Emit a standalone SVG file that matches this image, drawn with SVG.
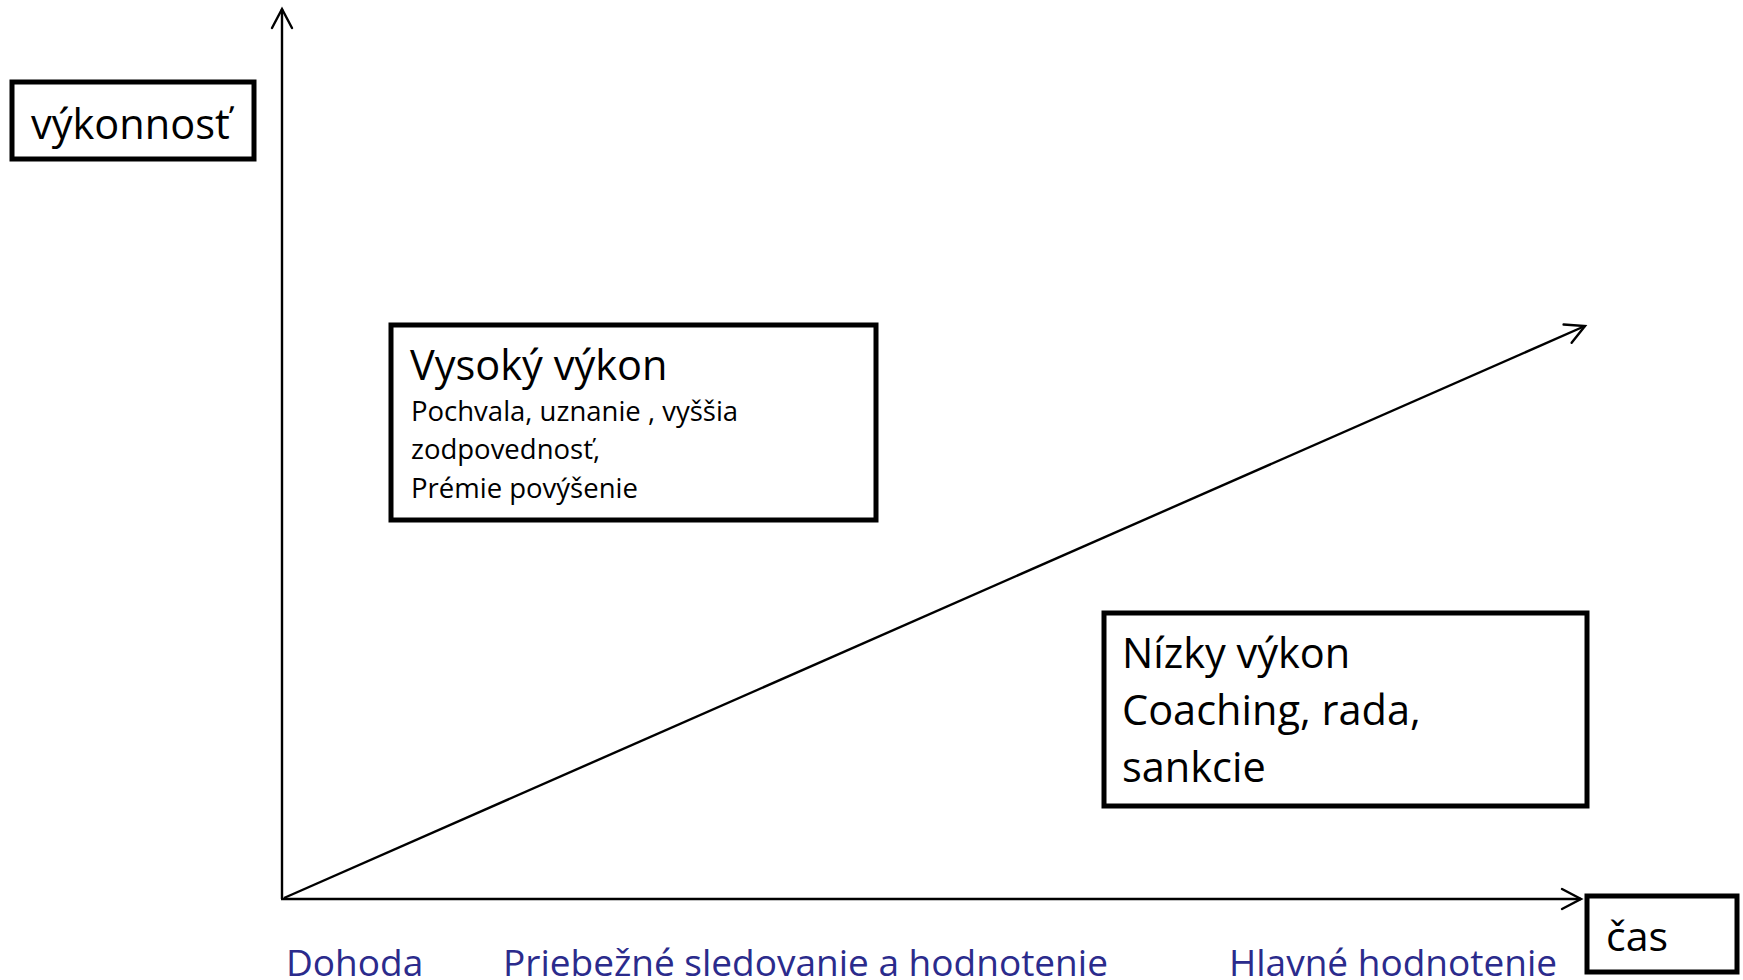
<svg xmlns="http://www.w3.org/2000/svg" width="1743" height="980" viewBox="0 0 1743 980">
  <defs>
    <marker id="arr" viewBox="-22 -12 24 24" refX="0" refY="0" markerWidth="24" markerHeight="24" markerUnits="userSpaceOnUse" orient="auto" overflow="visible">
      <path d="M-19,-10 L0,0 L-19,10" fill="none" stroke="#000" stroke-width="2.4" stroke-linecap="round" stroke-linejoin="miter"/>
    </marker>
  </defs>
  <style>
    .box { fill: #fff; stroke: #000; stroke-width: 5; }
    .axis { fill: none; stroke: #000; stroke-width: 2.4; }
    .t { font-family: "Open Sans", "Noto Sans", sans-serif; fill: #000; }
    .lbl { font-family: "Open Sans", "Noto Sans", sans-serif; fill: #2B2B8C; font-size: 37px; }
  </style>
  <rect width="1743" height="980" fill="#fff"/>
  <g id="connectors">
    <line class="axis" x1="282" y1="899" x2="282" y2="9" marker-end="url(#arr)"/>
    <line class="axis" x1="281" y1="899" x2="1581" y2="899" marker-end="url(#arr)"/>
    <line class="axis" x1="284" y1="898" x2="1585" y2="326" marker-end="url(#arr)"/>
  </g>
  <g id="node-vykonnost">
    <rect class="box" x="12" y="82" width="242" height="77"/>
    <text class="t" x="31" y="139" font-size="41.5">výkonnosť</text>
  </g>
  <g id="node-cas">
    <rect class="box" x="1587" y="896" width="150" height="76"/>
    <text class="t" x="1606" y="951" font-size="41">čas</text>
  </g>
  <g id="node-vysoky">
    <rect class="box" x="391" y="325" width="485" height="195"/>
    <text class="t" x="410" y="380" font-size="41.5">Vysoký výkon</text>
    <text class="t" x="411" y="421" font-size="27.5">Pochvala, uznanie , vyššia</text>
    <text class="t" x="411" y="459" font-size="27.5">zodpovednosť,</text>
    <text class="t" x="411" y="498" font-size="27.5">Prémie povýšenie</text>
  </g>
  <g id="node-nizky">
    <rect class="box" x="1104" y="613" width="483" height="193"/>
    <text class="t" x="1122" y="668" font-size="41.5">Nízky výkon</text>
    <text class="t" x="1122" y="725" font-size="41.5">Coaching, rada,</text>
    <text class="t" x="1122" y="782" font-size="41.5">sankcie</text>
  </g>
  <g id="node-dohoda">
    <text class="lbl" x="286" y="976">Dohoda</text>
  </g>
  <g id="node-priebezne">
    <text class="lbl" x="503" y="976">Priebežné sledovanie a hodnotenie</text>
  </g>
  <g id="node-hlavne">
    <text class="lbl" x="1229" y="976">Hlavné hodnotenie</text>
  </g>
</svg>
